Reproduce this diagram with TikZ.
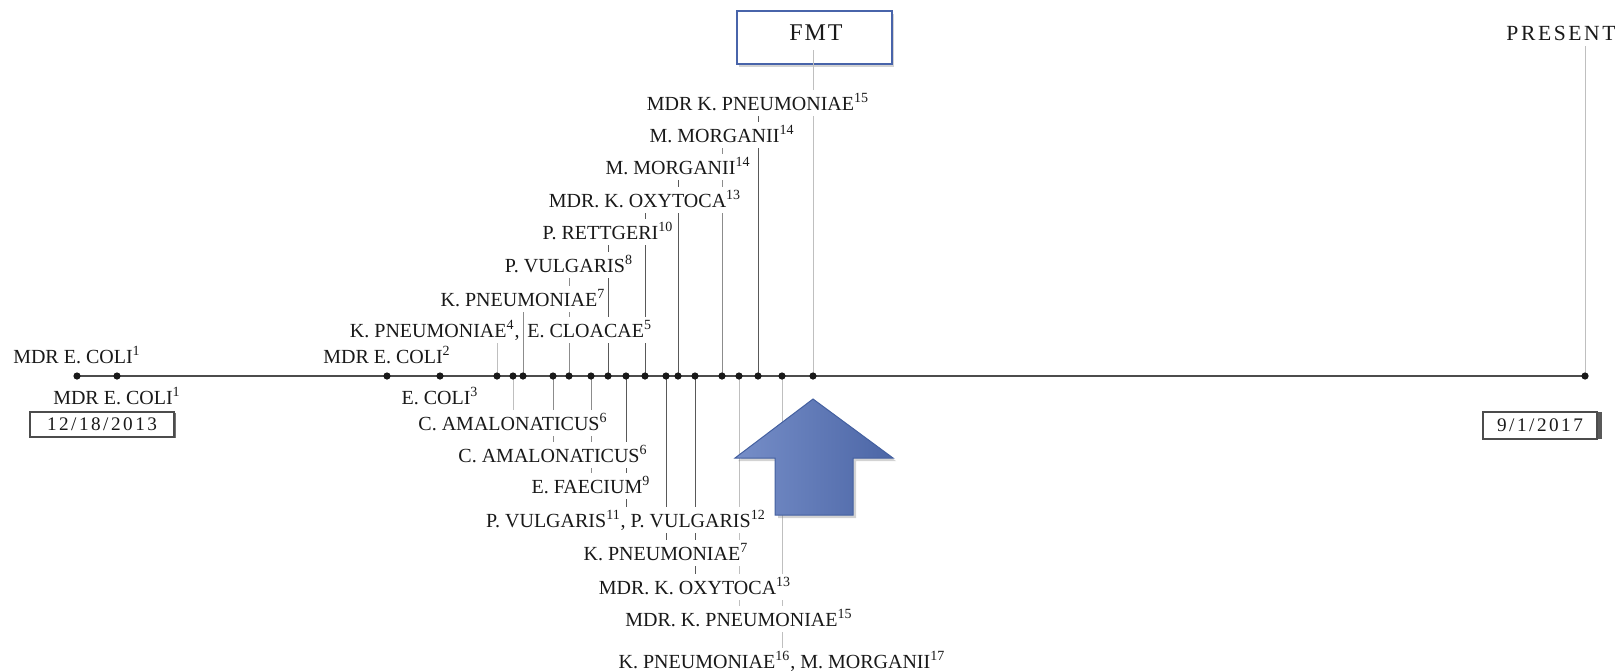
\documentclass[tikz,border=0pt]{standalone}
\usepackage{fontspec}
\setmainfont{Liberation Serif}
\newfontfamily\datefont[LetterSpace=13]{Liberation Serif}
\newfontfamily\fmtfont[LetterSpace=8]{Liberation Serif}
\newfontfamily\presfont[LetterSpace=12]{Liberation Serif}
\usetikzlibrary{shadows}
\pgfdeclarelayer{bg}
\pgfdeclarelayer{stems}
\pgfsetlayers{bg,stems,main}
\definecolor{fmtblue}{RGB}{72,100,170}
\definecolor{arrL}{RGB}{118,142,200}
\definecolor{arrR}{RGB}{76,102,166}
\definecolor{arrB}{RGB}{68,96,160}
\definecolor{txt}{RGB}{25,25,25}
\begin{document}
\begin{tikzpicture}[x=0.5pt,y=-0.5pt,
  lab/.style={fill=white, text=txt, font=\fontsize{10}{12}\selectfont, inner xsep=1pt, inner ysep=2.3pt, text height=7.5pt, text depth=0.5pt},
  dot/.style={circle, fill=black!90, inner sep=0pt, minimum size=3.6pt},
  axisline/.style={draw=black!70, line width=0.7pt},
  stemdark/.style={draw=black!65, line width=0.5pt},
  stemmid/.style={draw=black!45, line width=0.5pt},
  stemlight/.style={draw=black!25, line width=0.5pt},
  datebox/.style={draw=black!70, line width=0.6pt, fill=white, inner sep=0pt, text=txt, font=\datefont\fontsize{9.6}{11}\selectfont},
]
\useasboundingbox (0,0) rectangle (1615,670);

% dots on the time axis
\foreach \n/\x in {1/77,2/117,3/387,4/440,5/497,6/513,7/523,8/553,9/569,10/591,11/608,12/626,13/645,14/666,15/678,16/695,17/722,18/739,19/758,20/782,21/813,22/1585}
  \node[dot] (d\n) at (\x,376) {};

% labels above
\node[lab] (u1) at (77,356) {MDR E. COLI\textsuperscript{1}};
\node[lab] (u2) at (387,356) {MDR E. COLI\textsuperscript{2}};
\node[lab, anchor=east, inner xsep=0pt] (u3a) at (520,330) {K. PNEUMONIAE\textsuperscript{4},};
\node[lab, anchor=west, inner xsep=0pt] (u3b) at (527,330) {E. CLOACAE\textsuperscript{5}};
\node[lab] (u4) at (523,299) {K. PNEUMONIAE\textsuperscript{7}};
\node[lab] (u5) at (569,265) {P. VULGARIS\textsuperscript{8}};
\node[lab] (u6) at (608,232) {P. RETTGERI\textsuperscript{10}};
\node[lab] (u7) at (645,200) {MDR. K. OXYTOCA\textsuperscript{13}};
\node[lab] (u8) at (678,167) {M. MORGANII\textsuperscript{14}};
\node[lab] (u9) at (722,135) {M. MORGANII\textsuperscript{14}};
\node[lab] (u10) at (758,103) {MDR K. PNEUMONIAE\textsuperscript{15}};

% labels below
\node[lab] (w1) at (117,397) {MDR E. COLI\textsuperscript{1}};
\node[lab] (w2) at (440,397) {E. COLI\textsuperscript{3}};
\node[lab] (w3) at (513,423) {C. AMALONATICUS\textsuperscript{6}};
\node[lab] (w4) at (553,455) {C. AMALONATICUS\textsuperscript{6}};
\node[lab] (w5) at (591,486) {E. FAECIUM\textsuperscript{9}};
\node[lab] (w6) at (626,520) {P. VULGARIS\textsuperscript{11}, P. VULGARIS\textsuperscript{12}};
\node[lab] (w7) at (666,553) {K. PNEUMONIAE\textsuperscript{7}};
\node[lab] (w8) at (695,587) {MDR. K. OXYTOCA\textsuperscript{13}};
\node[lab] (w9) at (739,619) {MDR. K. PNEUMONIAE\textsuperscript{15}};
\node[lab] (w10) at (782,661) {K. PNEUMONIAE\textsuperscript{16}, M. MORGANII\textsuperscript{17}};

% FMT and PRESENT
\begin{pgfonlayer}{bg}
\node[draw=fmtblue, line width=1pt, fill=white, minimum width=77.5pt, minimum height=26.5pt, inner sep=0pt,
      drop shadow={shadow xshift=1.2pt, shadow yshift=-1.5pt, opacity=0.35}] (fmtbox) at (814.5,37.5) {};
\end{pgfonlayer}
\node[lab, font=\fmtfont\fontsize{12}{14}\selectfont, text height=8pt, inner ysep=4pt] (fmt) at (816,33) {FMT};
\node[lab, font=\presfont\fontsize{10.8}{13}\selectfont, anchor=east, inner xsep=0pt] (present) at (1616,33) {PRESENT};

% date boxes
\node[datebox, minimum width=72pt, minimum height=12.5pt,
      drop shadow={shadow xshift=0.8pt, shadow yshift=-0.6pt, fill=black!55, opacity=1}] (date1) at (102,424.5) {12/18/2013};
\node[datebox, minimum width=57pt, minimum height=13.5pt,
      drop shadow={shadow xshift=2.5pt, shadow yshift=0pt, fill=black!65, opacity=1}] (date2) at (1540,425.5) {9/1/2017};

% axis and stems
\begin{pgfonlayer}{stems}
\draw[axisline] (d1.center) -- (d22.center);
\draw[stemlight] (d5.center) -- (d5 |- u3a.south);
\draw[stemmid] (d7.center) -- (d7 |- u4.south);
\draw[stemmid] (d9.center) -- (d9 |- u5.south);
\draw[stemdark] (d11.center) -- (d11 |- u6.south);
\draw[stemdark] (d13.center) -- (d13 |- u7.south);
\draw[stemdark] (d15.center) -- (d15 |- u8.south);
\draw[stemmid] (d17.center) -- (d17 |- u9.south);
\draw[stemdark] (d19.center) -- (d19 |- u10.south);
\draw[stemlight] (d21.center) -- (d21 |- fmt.south);
\draw[stemlight] (d22.center) -- (d22 |- present.south);
\draw[stemlight] (d6.center) -- (d6 |- w3.north);
\draw[stemmid] (d8.center) -- (d8 |- w4.north);
\draw[stemmid] (d10.center) -- (d10 |- w5.north);
\draw[stemdark] (d12.center) -- (d12 |- w6.north);
\draw[stemdark] (d14.center) -- (d14 |- w7.north);
\draw[stemdark] (d16.center) -- (d16 |- w8.north);
\draw[stemlight] (d18.center) -- (d18 |- w9.north);
\draw[stemlight] (d20.center) -- (d20 |- w10.north);
\end{pgfonlayer}

% block arrow pointing up at FMT date
\shade[left color=arrL, right color=arrR, draw=arrB, line width=0.5pt,
       drop shadow={shadow xshift=1.5pt, shadow yshift=-1.5pt, opacity=0.35}]
  (813,399) -- (893,458) -- (853,458) -- (853,515) -- (775,515) -- (775,458) -- (735,458) -- cycle;
\end{tikzpicture}
\end{document}
